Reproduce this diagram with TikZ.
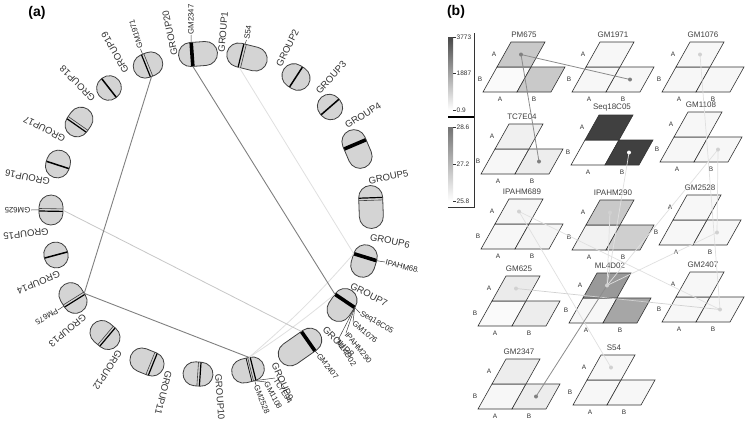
\documentclass[tikz,border=0pt]{standalone}
\usepackage{fontspec}
\setmainfont{Liberation Sans}
\usetikzlibrary{calc}
\definecolor{pillfill}{HTML}{D4D4D4}
\newcommand{\grp}[5]{%
 \begin{scope}[shift={(#1,#2)},rotate=-#3]
 \fill[pillfill,rounded corners=12pt] (-#4/2,-12) rectangle (#4/2,12);
 \begin{scope}
 \clip[rounded corners=12pt] (-#4/2,-12) rectangle (#4/2,12);
 #5
 \end{scope}
 \draw[pilledge,rounded corners=12pt] (-#4/2,-12) rectangle (#4/2,12);
 \end{scope}}
\newcommand{\io}[2]{\coordinate (i#1) at (#2,12); \coordinate (o#1) at (#2,-12);}
\newcommand{\mk}[1]{\draw[line width=1.5pt] (#1,-14)--(#1,14);}
\newcommand{\mkd}[1]{\draw[line width=1.2pt] (#1-1.2,-14)--(#1-1.2,14);\draw[line width=0.6pt,black!75] (#1+1.3,-14)--(#1+1.3,14);}
\newcommand{\mkh}[1]{\fill (#1-1.8,-14) rectangle (#1+1.8,14);}
\newcommand{\cellunit}[7]{%
 \begin{scope}[shift={(#2,#3)}]
 \filldraw[cellst,fill=#5] (0,0) -- (34,0) -- (48,-25) -- (14,-25) -- cycle;
 \filldraw[cellst,fill=#6] (34,0) -- (68,0) -- (82,-25) -- (48,-25) -- cycle;
 \filldraw[cellst,fill=#4] (14,-25) -- (48,-25) -- (62,-50) -- (28,-50) -- cycle;
 \node[ttl] (#1) at (41,-57) {#7};
 \node[axl] (#1la) at (11,-37.5) {A};
 \node[axl] (#1lb) at (-3,-12.5) {B};
 \node[axl] (#1ba) at (17,7) {A};
 \node[axl] (#1bb) at (51,7) {B};
 \coordinate (#1AA) at (38,-37.5);
 \coordinate (#1BB) at (58,-12.5);
 \end{scope}}
\begin{document}
\begin{tikzpicture}[x=1pt,y=-1pt,
 glab/.style={font=\fontsize{9.5}{11}\selectfont,text=black!80,inner sep=0pt},
 mlab/.style={font=\fontsize{7.8}{9}\selectfont,text=black!85,inner sep=0.5pt,anchor=west},
 leader/.style={draw=black!75,line width=0.5pt},
 pilledge/.style={draw=black!75,line width=0.8pt},
 cdark/.style={draw=black!50,line width=0.9pt},
 cmid/.style={draw=black!22,line width=0.8pt},
 clight/.style={draw=black!12,line width=0.8pt},
 cellst/.style={draw=black!80,line width=0.6pt},
 ttl/.style={font=\fontsize{8}{9}\selectfont,text=black!75,inner sep=0pt},
 axl/.style={font=\fontsize{6.5}{8}\selectfont,text=black!80,inner sep=0pt},
 tickl/.style={font=\fontsize{6.5}{8}\selectfont,text=black!80,inner sep=0.5pt,anchor=west},
 bdark/.style={draw=black!45,line width=0.8pt},
 bmid/.style={draw=black!18,line width=0.7pt},
 blight/.style={draw=black!12,line width=0.7pt},
 panel/.style={font=\fontsize{14}{16}\selectfont\bfseries,inner sep=0pt}]
\useasboundingbox (0,0) rectangle (746,424);
\fill[white] (0,0) rectangle (746,424);

% ---------- panel (a) ----------
\node[panel] (pa) at (37,13) {(a)};
\grp{247}{57}{14}{41}{\mkd{-5}\io{1}{-5}}
\grp{296}{77}{33}{29}{\mk{0}\io{2}{0}}
\grp{330}{107}{49}{26}{\mk{0}\io{3}{0}}
\grp{357}{149}{67}{40}{\mkh{-5}\io{4}{-5}}
\grp{371}{207}{88}{43}{\mkd{-8}\io{5}{-8}}
\grp{364}{261}{107}{33}{\mkh{-4}\io{6}{-4}}
\grp{342}{305}{124}{35}{\mkh{-5}\io{7}{-5}}
\grp{300}{347}{145}{48}{\mkh{-10}\io{8}{-10}}
\grp{248}{370}{166}{33}{\mkd{-4}\draw[line width=0.7pt] (-1,-14)--(-1,14);\io{9}{-4}}
\grp{198}{374}{184}{30}{\mkd{-1}\io{10}{-1}}
\grp{147}{362}{202}{35}{\mkd{-5}\io{11}{-5}}
\grp{105}{335}{220}{32}{\mkd{-2}\io{12}{-2}}
\grp{73}{298}{238}{32}{\mkd{-2}\io{13}{-2}}
\grp{56}{255}{255}{26}{\mk{0}\io{14}{0}}
\grp{51}{210}{271}{30}{\mkd{0}\io{15}{0}}
\grp{58}{164}{288}{28}{\mk{-1}\io{16}{-1}}
\grp{79}{122}{305}{31}{\mkd{-3}\io{17}{-3}}
\grp{109}{88}{322}{25}{\mk{0}\io{18}{0}}
\grp{148}{65}{338}{30}{\mkd{-1}\io{19}{-1}}
\grp{198}{54}{356}{39}{\mkh{-6}\io{20}{-6}}

% connectors (a)
\draw[clight] (i9) to[bend right=3] (i7);
\draw[clight] (i9) to[bend right=4] (i6);
\draw[clight] (i1) -- (i6);
\draw[cmid] (i15) -- (i8);
\draw[cdark] (i19) -- (i13);
\draw[cdark] (i13) -- (i9);
\draw[cdark] (i20) -- (i7);

% group labels
\node[glab,rotate=85] (l1) at (223,32) {GROUP1};
\node[glab,rotate=64] (l2) at (287.5,48) {GROUP2};
\node[glab,rotate=48] (l3) at (331,77.5) {GROUP3};
\node[glab,rotate=32] (l4) at (363,115.5) {GROUP4};
\node[glab,rotate=11] (l5) at (388.5,177) {GROUP5};
\node[glab,rotate=-12] (l6) at (390,241) {GROUP6};
\node[glab,rotate=-27] (l7) at (369,294.5) {GROUP7};
\node[glab,rotate=-45] (l8) at (338.5,342) {GROUP8};
\node[glab,rotate=-66] (l9) at (282.5,381.5) {GROUP9};
\node[glab,rotate=-86] (l10) at (220,397) {GROUP10};
\node[glab,rotate=-104] (l11) at (163.5,392.5) {GROUP11};
\node[glab,rotate=-122.6] (l12) at (107.5,370) {GROUP12};
\node[glab,rotate=-140] (l13) at (67.5,330.5) {GROUP13};
\node[glab,rotate=-157.7] (l14) at (38.5,282.5) {GROUP14};
\node[glab,rotate=-173.4] (l15) at (26,234) {GROUP15};
\node[glab,rotate=169] (l16) at (27.5,177.5) {GROUP16};
\node[glab,rotate=153] (l17) at (44.5,129) {GROUP17};
\node[glab,rotate=135] (l18) at (77.5,83.5) {GROUP18};
\node[glab,rotate=120] (l19) at (115,52.5) {GROUP19};
\node[glab,rotate=102] (l20) at (170,33) {GROUP20};

% marker labels
\node[mlab,rotate=90] (t20) at (191,35) {GM2347};
\node[mlab,rotate=80] (t1) at (246.5,40) {S54};
\node[mlab,rotate=107] (t19) at (140.5,49) {GM1971};
\node[mlab,rotate=180] (t15) at (31,210) {GM625};
\node[mlab,rotate=-150] (t13) at (58,310) {PM675};
\begin{scope}
\clip (0,0) rectangle (417,424);
\node[mlab,rotate=-14] (t6) at (385,262) {IPAHM689};
\end{scope}
\node[mlab,rotate=-30] (t7a) at (360,313) {Seq18C05};
\node[mlab,rotate=-40] (t7b) at (353,322) {GM1076};
\node[mlab,rotate=-50] (t7c) at (346,333) {IPAHM290};
\node[mlab,rotate=-57] (t7d) at (338,340) {ML4D02};
\node[mlab,rotate=-52] (t8) at (318,354) {GM2407};
\node[mlab,rotate=-58] (t9a) at (275,378) {TC7E04};
\node[mlab,rotate=-62] (t9b) at (266,382) {GM1108};
\node[mlab,rotate=-68] (t9c) at (256,385) {GM2528};
\draw[leader] (o20) -- (t20.west);
\draw[leader] (o1) -- (t1.west);
\draw[leader] (o19) -- (t19.west);
\draw[leader] (o15) -- (t15.west);
\draw[leader] (o13) -- (t13.west);
\draw[leader] (o6) -- (t6.west);
\draw[leader] (o7) -- (t7a.west);
\draw[leader] (o7) -- (t7b.west);
\draw[leader] (o7) -- (t7c.west);
\draw[leader] (o7) -- (t7d.west);
\draw[leader] (o8) -- (t8.west);
\draw[leader] (o9) -- (t9a.west);
\draw[leader] (o9) -- (t9b.west);
\draw[leader] (o9) -- (t9c.west);

% ---------- panel (b) ----------
\node[panel] (pb) at (456,12) {(b)};
\shade[top color=black!72,bottom color=white] (448,37) rectangle (453,110);
\shade[top color=black!55,bottom color=white] (448,127) rectangle (453,201);
\draw[black!80,line width=0.6pt] (474,33) -- (474,207) -- (448,207);
\draw[line width=1.2pt] (448,117) -- (474,117);
\foreach \yy in {37,73.5,110,127,164,201} \draw[black!80,line width=0.5pt] (453,\yy) -- (456,\yy);
\node[tickl] (cb1) at (456,37) {3773};
\node[tickl] (cb2) at (456,73.5) {1887};
\node[tickl] (cb3) at (456,110) {0.9};
\node[tickl] (cb4) at (456,127) {28.6};
\node[tickl] (cb5) at (456,164) {27.2};
\node[tickl] (cb6) at (456,201) {25.8};

\cellunit{pm}{483}{92}{black!21}{black!2}{black!21}{PM675}
\cellunit{ga}{572}{92}{black!3}{black!3}{black!3}{GM1971}
\cellunit{gb}{662}{92}{black!3}{black!3}{black!3}{GM1076}
\cellunit{tc}{481}{174}{black!6}{black!3}{black!7}{TC7E04}
\cellunit{sq}{571}{165}{black!75}{white}{black!75}{Seq18C05}
\cellunit{gc}{660}{162}{black!3}{black!3}{black!3}{GM1108}
\cellunit{ip}{481}{249}{black!4}{black!3}{black!4}{IPAHM689}
\cellunit{iq}{572}{250}{black!21}{black!5}{black!19}{IPAHM290}
\cellunit{gd}{659}{245}{black!3}{black!3}{black!3}{GM2528}
\cellunit{ge}{478}{326}{black!8}{black!2}{black!7}{GM625}
\cellunit{ml}{569}{323}{black!40}{black!3}{black!35}{ML4D02}
\cellunit{gf}{662}{322}{black!3}{black!3}{black!3}{GM2407}
\cellunit{gg}{478}{409}{black!7}{black!3}{black!7}{GM2347}
\cellunit{ss}{573}{405}{black!3}{black!3}{black!3}{S54}

\draw[blight] (sqBB) -- (mlAA);
\draw[blight] (iqAA) -- (mlAA);
\draw[blight] (gcBB) -- (mlAA);
\draw[blight] (gdBB) -- (mlAA);
\draw[blight] (gbAA) -- (gfBB);
\draw[blight] (gcBB) -- (gdBB);
\draw[blight] (ipAA) -- (gfBB);
\draw[blight] (ipAA) -- (ssAA);
\draw[bmid] (geAA) -- (gfBB);
\draw[bdark] (pmAA) -- (gaBB);
\draw[bdark] (pmAA) -- (tcBB);
\draw[bdark] (ggBB) -- (mlAA);

\foreach \p in {pmAA,gaBB,tcBB,ggBB} \fill[black!50] (\p) circle (2pt);
\fill[white] (sqBB) circle (2pt);
\foreach \p in {gbAA,gcBB,gdBB,mlAA,iqAA,ipAA,geAA,gfBB,ssAA} \fill[black!18] (\p) circle (2pt);
\end{tikzpicture}
\end{document}
